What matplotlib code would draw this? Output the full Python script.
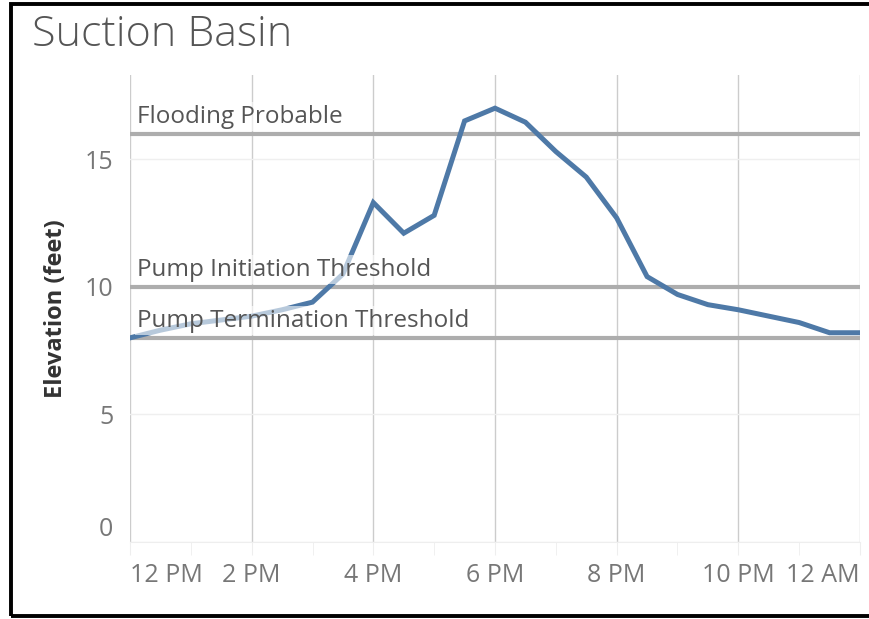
import matplotlib.pyplot as plt
from matplotlib.patches import Rectangle
import numpy as np

# hours after noon, sampled every half hour
hours = [0, 0.5, 1, 1.5, 2, 2.5, 3, 3.5, 4, 4.5, 5, 5.5, 6, 6.5, 7, 7.5, 8,
         8.5, 9, 9.5, 10, 10.5, 11, 11.5, 12]
elevation = [8.0, 8.3, 8.55, 8.7, 8.85, 9.1, 9.4, 10.5, 13.3, 12.1, 12.8, 16.5,
             17.0, 16.45, 15.3, 14.3, 12.7, 10.4, 9.7, 9.3, 9.1, 8.85, 8.6,
             8.2, 8.2]

tick_hours = [0, 2, 4, 6, 8, 10, 12]
tick_labels = ['12 PM', '2 PM', '4 PM', '6 PM', '8 PM', '10 PM', '12 AM']

thresholds = [16, 10, 8]
threshold_names = ['Flooding Probable', 'Pump Initiation Threshold',
                   'Pump Termination Threshold']

plt.rcParams['font.family'] = ['Open Sans', 'DejaVu Sans']

fig = plt.figure(figsize=(8.7, 6.19), dpi=100)
ax = fig.add_axes([130/870, 1-542/619, 730/870, 467/619])

# frame round the whole sheet
fig.patches.append(Rectangle((11/870, 3/619), 1.2, 612/619, transform=fig.transFigure,
                             fill=False, edgecolor='black', linewidth=2.8))

ax.plot(hours, elevation, color='#4e79a7', linewidth=3.6, solid_joinstyle='miter',
        zorder=3)

for val, name in zip(thresholds, threshold_names):
    ax.axhline(val, color='#adadad', linewidth=3, zorder=2)
    ax.text(0.115, val + 0.2, name, fontsize=17.5, color='#555555',
            va='bottom', ha='left', zorder=4,
            bbox=dict(boxstyle='square,pad=0.1', fc='white', ec='none', alpha=0.6))

ax.set_xlim(0, 12)
ax.set_ylim(0, 18.3)
ax.set_yticks([0, 5, 10, 15])
ax.set_xticks(tick_hours)
ax.set_xticklabels(tick_labels)
ax.set_xticks(np.arange(0, 13, 1), minor=True)

ax.grid(axis='x', color='#cccccc', linewidth=1, zorder=1)
ax.grid(axis='y', color='#efefef', linewidth=1, zorder=1)
for s in ['top', 'right', 'left']:
    ax.spines[s].set_visible(False)
ax.spines['bottom'].set_color('#eeeeee')

ax.tick_params(axis='x', which='both', length=9, color='#eeeeee', pad=6,
               labelsize=18, labelcolor='#777777')
ax.tick_params(axis='y', length=0, pad=12, labelsize=18, labelcolor='#777777')
labels = ax.get_xticklabels()
labels[0].set_ha('left')
labels[-1].set_ha('right')
ax.get_yticklabels()[0].set_va('bottom')

ax.set_ylabel('Elevation (feet)', fontsize=17, fontweight='bold', color='#333333',
              labelpad=12)

fig.text(32/870, 1-35/619, 'Suction Basin', fontsize=31, color='#555555',
         va='center', ha='left', fontweight='light')

fig.savefig('out.png', dpi=100)
